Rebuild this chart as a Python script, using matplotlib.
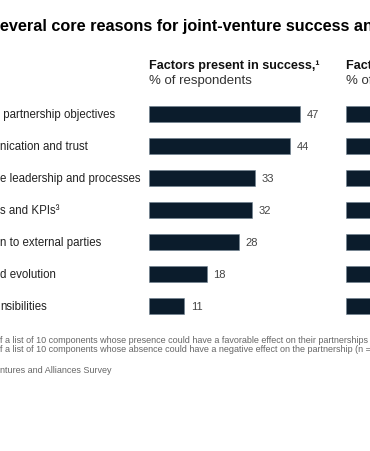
import matplotlib.pyplot as plt

plt.rcParams['font.family'] = ['Liberation Sans', 'DejaVu Sans']

# Data (chart is cropped on both sides, so row labels are the visible parts)
labels = [' partnership objectives', 'nication and trust', 'e leadership and processes',
          's and KPIs\u00b3', 'n to external parties', 'd evolution', 'nsibilities']
success = [47, 44, 33, 32, 28, 18, 11]
failure = [45, 42, 36, 30, 27, 22, 15]  # only the first few px are visible

title = 'Several core reasons for joint-venture success and failure'
head1 = ('Factors present in success,\u00b9', '% of respondents')
head2 = ('Factors absent in failure,\u00b2', '% of respondents')
notes = ['f a list of 10 components whose presence could have a favorable effect on their partnerships (n = 100).',
         'f a list of 10 components whose absence could have a negative effect on the partnership (n = 100).']
source = 'ntures and Alliances Survey'

W, H = 370, 452
bar_col = '#0b1c2c'
px_unit = 3.21

fig = plt.figure(figsize=(W / 100, H / 100), dpi=100)
fig.patch.set_facecolor('white')

def fx(px):
    return px / W

def fy(py):
    return 1 - py / H

top, bottom = 99, 323
ax_w = 200
n = len(labels)

def make_ax(left_px, vals, show_vals):
    ax = fig.add_axes([fx(left_px), fy(bottom), ax_w / W, (bottom - top) / H])
    ax.set_xlim(0, ax_w / px_unit)
    ax.set_ylim(n - 0.5, -0.5)
    ax.barh(range(n), vals, height=0.5, color=bar_col, edgecolor='#6d7f8f', linewidth=0.4)
    if show_vals:
        for i, v in enumerate(vals):
            ax.text(v + 2, i, str(v), va='center', ha='left', fontsize=8, color='#444444')
    ax.axis('off')
    return ax

make_ax(149, success, True)
make_ax(346, failure, False)

# row labels
for i, lab in enumerate(labels):
    fig.text(fx(0), fy(115 + 32 * i), lab, ha='left', va='center', fontsize=8.3, color='#222222')

# title
fig.text(fx(-11), fy(27), title, ha='left', va='center', fontsize=11.7, fontweight='bold', color='#000000')

# column headers
for x0, (h, sub) in [(149, head1), (346, head2)]:
    fig.text(fx(x0), fy(66), h, ha='left', va='center', fontsize=9.1, fontweight='bold', color='#111111')
    fig.text(fx(x0), fy(81), sub, ha='left', va='center', fontsize=9.5, color='#333333')

# footnotes
fig.text(fx(0), fy(341), notes[0], ha='left', va='center', fontsize=6.5, color='#666666')
fig.text(fx(0), fy(349), notes[1], ha='left', va='center', fontsize=6.5, color='#666666')
fig.text(fx(0), fy(371), source, ha='left', va='center', fontsize=6.5, color='#666666')

fig.savefig('out.png', dpi=100)
